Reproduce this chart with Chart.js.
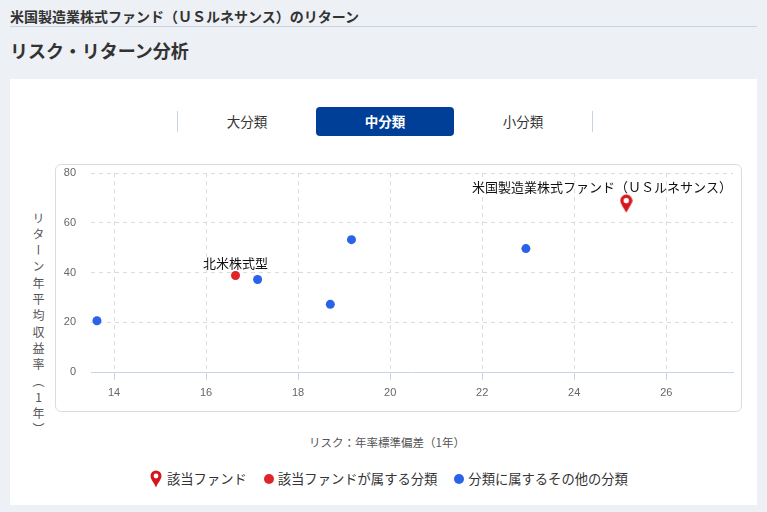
<!DOCTYPE html>
<html lang="ja">
<head>
    <meta charset="UTF-8">
    <meta name="viewport" content="width=device-width, initial-scale=1.0">
    <title>リスク・リターン分析</title>
    <script src="https://cdn.jsdelivr.net/npm/chart.js"></script>
    <style>
        body {
            margin: 0;
            width: 767px;
            height: 512px;
            position: relative;
            overflow: hidden;
            background: #edf0f4;
            color: #333;
            font-family: "Noto Sans CJK JP", "Noto Sans", sans-serif;
        }
        .fund-title { position: absolute; left: 10px; top: 6px; font-size: 14px; font-weight: bold; line-height: 20px; }
        .rule { position: absolute; left: 10px; width: 747px; top: 26px; border-top: 1px solid #c9d3df; }
        h2 { position: absolute; left: 10px; top: 38px; margin: 0; font-size: 18px; line-height: 24px; }
        .card { position: absolute; left: 10px; top: 79px; width: 747px; height: 426px; background: #fff; }
        .sep { position: absolute; top: 111px; width: 1px; height: 21px; background: #c9d3df; }
        .tab { position: absolute; top: 107px; width: 138px; height: 29px; line-height: 29px; text-align: center; font-size: 13.5px; color: #333; }
        .tab.active { background: #003f98; color: #fff; border-radius: 4px; font-weight: bold; }
        .chart-box { position: absolute; left: 55px; top: 164px; width: 687px; height: 248px; box-sizing: border-box; border: 1px solid #dcdcdc; border-radius: 6px; }
        .chart-wrap { position: relative; width: 685px; height: 246px; }
        .y-title { position: absolute; left: 30px; top: 212px; writing-mode: vertical-rl; text-orientation: upright; font-size: 12px; letter-spacing: 4.3px; color: #555; }
        .x-title { position: absolute; left: 17px; width: 740px; top: 434px; text-align: center; font-size: 11.5px; color: #555; }
        .legend { position: absolute; left: 150px; top: 469px; display: flex; align-items: center; font-size: 13.3px; color: #333; line-height: 20px; }
        .legend .item { display: flex; align-items: center; margin-right: 17px; }
        .legend .dot { width: 10px; height: 10px; border-radius: 50%; margin-right: 4px; }
        .legend svg { margin-right: 5px; }
    </style>
</head>
<body>
    <div class="fund-title">米国製造業株式ファンド（ＵＳルネサンス）のリターン</div>
    <div class="rule"></div>
    <h2>リスク・リターン分析</h2>

    <div class="card"></div>

    <!-- 分類タブ -->
    <div class="sep" style="left:177px"></div>
    <div class="tab" style="left:178px">大分類</div>
    <div class="tab active" style="left:316px">中分類</div>
    <div class="tab" style="left:454px">小分類</div>
    <div class="sep" style="left:592px"></div>

    <div class="chart-box">
        <div class="chart-wrap"><canvas id="riskChart"></canvas></div>
    </div>
    <div class="y-title">リターン年平均収益率（1年）</div>
    <div class="x-title">リスク：年率標準偏差（1年）</div>

    <div class="legend">
        <div class="item">
            <svg width="12" height="18" viewBox="0 0 12 18">
                <path d="M6 0.5 A5.5 5.5 0 0 1 11.5 6 C11.5 9.5 8 12.5 6 17.5 C4 12.5 0.5 9.5 0.5 6 A5.5 5.5 0 0 1 6 0.5 Z" fill="#d7161c"/>
                <circle cx="6" cy="6" r="2.4" fill="#fff"/>
            </svg>該当ファンド
        </div>
        <div class="item"><span class="dot" style="background:#e0242a"></span>該当ファンドが属する分類</div>
        <div class="item"><span class="dot" style="background:#2a62e8"></span>分類に属するその他の分類</div>
    </div>

    <script>
        // その他の分類（中分類）
        const otherRisk = [13.63, 17.12, 18.70, 19.16, 22.95];
        const otherReturn = [20.6, 37.2, 27.2, 53.2, 49.6];

        // 該当ファンドが属する分類
        const categoryName = '北米株式型';
        const categoryRisk = [16.64];
        const categoryReturn = [38.8];

        // 該当ファンド
        const fundName = '米国製造業株式ファンド（ＵＳルネサンス）';
        const fundRisk = [25.13];
        const fundReturn = [67.7];

        const xTicks = [14, 16, 18, 20, 22, 24, 26];
        const yTicks = [0, 20, 40, 60, 80];

        const toPoints = (xs, ys) => xs.map((x, i) => ({ x, y: ys[i] }));

        // ピンのマーカー画像
        function makePin() {
            const c = document.createElement('canvas');
            c.width = 13;
            c.height = 19;
            const g = c.getContext('2d');
            g.fillStyle = '#d7161c';
            g.beginPath();
            g.arc(6.5, 6.5, 6, Math.PI * 0.8, Math.PI * 2.2);
            g.quadraticCurveTo(11, 11, 6.5, 18.5);
            g.quadraticCurveTo(2, 11, 1.65, 10);
            g.closePath();
            g.fill();
            g.fillStyle = '#fff';
            g.beginPath();
            g.arc(6.5, 6.5, 2.7, 0, Math.PI * 2);
            g.fill();
            return c;
        }

        // 点の上にラベルを描く
        const pointLabels = {
            id: 'pointLabels',
            afterDatasetsDraw(chart) {
                const { ctx, chartArea } = chart;
                ctx.save();
                ctx.font = '13px "Noto Sans CJK JP"';
                ctx.fillStyle = '#111';
                ctx.textAlign = 'left';
                ctx.textBaseline = 'middle';
                chart.data.datasets.forEach((ds, i) => {
                    if (!ds.pointLabel) return;
                    chart.getDatasetMeta(i).data.forEach(pt => {
                        const w = ctx.measureText(ds.pointLabel).width;
                        let x = pt.x - w / 2;
                        x = Math.min(x, chartArea.right - 1 - w);
                        x = Math.max(x, chartArea.left);
                        ctx.fillText(ds.pointLabel, x, pt.y - ds.labelGap);
                    });
                });
                ctx.restore();
            }
        };

        const ctx = document.getElementById('riskChart').getContext('2d');
        new Chart(ctx, {
            type: 'scatter',
            data: {
                datasets: [
                    {
                        label: '分類に属するその他の分類',
                        data: toPoints(otherRisk, otherReturn),
                        backgroundColor: '#2a62e8',
                        borderWidth: 0,
                        pointRadius: 4.5,
                        order: 3
                    },
                    {
                        label: '該当ファンドが属する分類',
                        data: toPoints(categoryRisk, categoryReturn),
                        backgroundColor: '#e0242a',
                        borderWidth: 0,
                        pointRadius: 4.5,
                        pointLabel: categoryName,
                        labelGap: 12,
                        order: 2
                    },
                    {
                        label: '該当ファンド',
                        data: toPoints(fundRisk, fundReturn),
                        pointStyle: makePin(),
                        pointLabel: fundName,
                        labelGap: 17,
                        order: 1
                    }
                ]
            },
            options: {
                responsive: true,
                maintainAspectRatio: false,
                animation: false,
                layout: { padding: { top: 8, right: 8, left: 0, bottom: 0 } },
                plugins: {
                    legend: { display: false },
                    tooltip: { enabled: false }
                },
                scales: {
                    x: {
                        type: 'linear',
                        min: 13.5,
                        max: 27.45,
                        afterBuildTicks: scale => { scale.ticks = xTicks.map(v => ({ value: v })); },
                        afterFit: scale => {
                            scale.height = 39;
                            scale.paddingLeft = 0;
                            scale.paddingRight = 0;
                        },
                        ticks: {
                            color: '#666',
                            padding: 6,
                            maxRotation: 0,
                            font: { size: 11, family: '"Liberation Sans", Arial, sans-serif' }
                        },
                        grid: {
                            color: '#dcdcdc',
                            tickColor: '#c7d4e8',
                            tickLength: 8
                        },
                        border: { color: '#c7d4e8', dash: [4, 4] }
                    },
                    y: {
                        min: 0,
                        max: 80,
                        afterBuildTicks: scale => { scale.ticks = yTicks.map(v => ({ value: v })); },
                        afterFit: scale => {
                            scale.width = 35;
                            scale.paddingTop = 0;
                            scale.paddingBottom = 0;
                        },
                        ticks: {
                            color: '#666',
                            padding: 15,
                            font: { size: 11, family: '"Liberation Sans", Arial, sans-serif' }
                        },
                        grid: {
                            color: c => (c.tick && c.tick.value === 0 ? 'rgba(0,0,0,0)' : '#dcdcdc'),
                            drawTicks: false
                        },
                        border: { display: false, dash: [4, 4] }
                    }
                }
            },
            plugins: [pointLabels]
        });
    </script>
</body>
</html>
